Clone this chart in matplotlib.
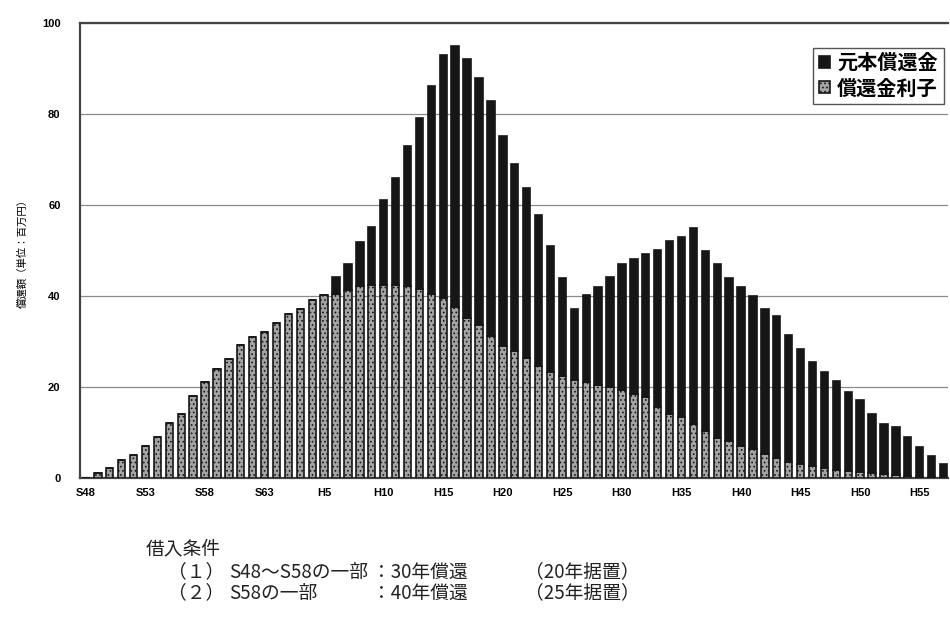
import matplotlib
matplotlib.use('Agg')
import matplotlib.pyplot as plt
import numpy as np

plt.rcParams['font.family'] = ['Liberation Sans', 'Noto Sans CJK JP', 'DejaVu Sans']
plt.rcParams['hatch.linewidth'] = 0.7

# 年度 (S48 ～ H57)
years = ['S%d' % y for y in range(48, 64)] + ['H%d' % y for y in range(1, 58)]
tick_labels = ['S48', 'S53', 'S58', 'S63', 'H5', 'H10', 'H15', 'H20', 'H25',
               'H30', 'H35', 'H40', 'H45', 'H50', 'H55']

# 償還金利子 (百万円)
interest = [0, 1.1, 2.2, 4.0, 5.2, 7.1, 9.1, 12.2, 14.1, 18.1,
            21.1, 24.1, 26.3, 29.3, 31.1, 32.2, 34.2, 36.2, 37.2, 39.2,
            40.2, 40.6, 41.4, 42.2, 42.4, 42.6, 42.4, 42.2, 41.6, 40.6,
            39.6, 37.6, 35.3, 33.6, 31.4, 29.2, 28.1, 26.4, 24.8, 23.3,
            22.4, 21.6, 21.2, 20.5, 20.0, 19.5, 18.5, 17.8, 15.6, 14.1,
            13.4, 11.9, 10.4, 9.0, 8.2, 7.1, 6.4, 5.3, 4.6, 3.6,
            3.1, 2.7, 2.4, 1.9, 1.6, 1.4, 1.1, 0.9, 0.7, 0.5,
            0.4, 0.3, 0.2]

# 元本償還金 (百万円)
principal = [0, 0, 0, 0, 0, 0, 0, 0, 0, 0,
             0, 0, 0, 0, 0, 0, 0, 0, 0, 0,
             0, 3.6, 5.7, 9.8, 12.9, 18.5, 23.5, 30.9, 37.5, 45.5,
             53.5, 57.4, 56.8, 54.4, 51.5, 46.0, 40.9, 37.5, 33.1, 27.7,
             21.7, 15.7, 19.0, 21.6, 24.3, 27.7, 29.6, 31.4, 34.5, 38.1,
             39.7, 43.2, 39.6, 38.0, 35.9, 35.0, 33.6, 31.9, 31.0, 27.9,
             25.4, 22.8, 20.9, 19.6, 17.5, 15.9, 13.0, 11.0, 10.5, 8.6,
             6.6, 4.6, 2.9]

x = np.arange(len(years))

fig = plt.figure(figsize=(9.5, 6.17), dpi=100)
ax = fig.add_axes([0.0842, 0.2245, 0.914, 0.738])

ax.bar(x, interest, width=0.62, color='#a4a4a4', edgecolor='#161616',
       linewidth=1.2, hatch='....', label='償還金利子', zorder=3)
ax.bar(x, principal, width=0.62, bottom=interest, color='#161616',
       edgecolor='#161616', linewidth=1.2, label='元本償還金', zorder=3)

ax.set_xlim(-0.5, 72.4)
ax.set_ylim(0, 100)
ax.set_yticks([0, 20, 40, 60, 80, 100])
ax.set_yticklabels(['0', '20', '40', '60', '80', '100'], fontsize=8, fontweight='bold')
ax.set_xticks([years.index(t) for t in tick_labels])
ax.set_xticklabels(tick_labels, fontsize=8, fontweight='bold')
ax.tick_params(length=0, pad=7)
ax.tick_params(axis='y', pad=14)

ax.yaxis.grid(True, color='#8a8a8a', linewidth=0.9, zorder=0)
ax.spines['right'].set_visible(False)
for s in ax.spines.values():
    s.set_color('#444444')
    s.set_linewidth(1.6)

ax.set_ylabel('償還額（単位：百万円）', fontsize=7.5, labelpad=10)

h, l = ax.get_legend_handles_labels()
leg = ax.legend(h[::-1], l[::-1], loc='upper right', bbox_to_anchor=(0.9995, 0.955),
                fontsize=14.5, handlelength=0.55, handleheight=0.55, handletextpad=0.35,
                fancybox=False, edgecolor='#555555', framealpha=1,
                borderpad=0.3, labelspacing=0.3, borderaxespad=0.2)
leg.get_frame().set_linewidth(1.0)
for t in leg.get_texts():
    t.set_fontweight('bold')

# 借入条件
note_font = dict(fontsize=13.5, family=['Noto Sans CJK JP', 'DejaVu Sans'],
                 color='#222222', va='center')
fig.text(146 / 950, 1 - 549 / 617, '借入条件', **note_font)
fig.text(168 / 950, 1 - 572 / 617, '（１）', **note_font)
fig.text(229 / 950, 1 - 572 / 617, 'S48～S58の一部', **note_font)
fig.text(372 / 950, 1 - 572 / 617, '：30年償還', **note_font)
fig.text(525 / 950, 1 - 572 / 617, '（20年据置）', **note_font)
fig.text(168 / 950, 1 - 593 / 617, '（２）', **note_font)
fig.text(229 / 950, 1 - 593 / 617, 'S58の一部', **note_font)
fig.text(372 / 950, 1 - 593 / 617, '：40年償還', **note_font)
fig.text(525 / 950, 1 - 593 / 617, '（25年据置）', **note_font)

fig.savefig('out.png', dpi=100)
